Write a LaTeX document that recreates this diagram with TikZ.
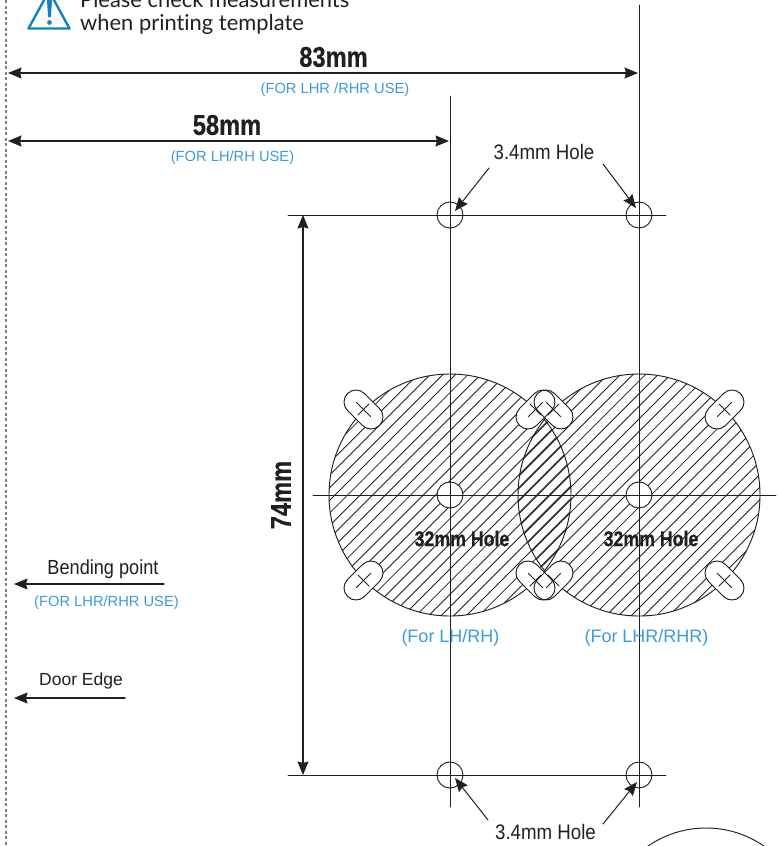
\documentclass[tikz,border=0pt]{standalone}
\usepackage{fontspec}
\usetikzlibrary{arrows.meta,positioning,shapes.misc}
\setmainfont{Liberation Sans}
\newfontfamily\cond[FakeStretch=0.89]{Liberation Sans}
\newfontfamily\boldcond[FakeStretch=0.83,BoldFeatures={FakeBold=0.5}]{Liberation Sans}
\newfontfamily\noticefont[Ligatures=NoCommon]{Lato}
\definecolor{noteblue}{HTML}{3D9BD6}
\definecolor{signblue}{HTML}{1580C4}
\definecolor{inkgray}{HTML}{231F20}
\tikzset{
	dimline/.style={draw=inkgray, line width=1.05pt, {Stealth[length=13.5pt,width=11pt,inset=1.5pt]}-{Stealth[length=13.5pt,width=11pt,inset=1.5pt]}},
	pointer/.style={draw=inkgray, line width=1.05pt, -{Stealth[length=13.5pt,width=11pt,inset=1.5pt]}},
	leader/.style={draw=inkgray, line width=1pt, -{Stealth[length=13.5pt,width=11pt,inset=1.5pt]}},
	axisline/.style={draw=inkgray, line width=.95pt},
	dimtext/.style={font=\boldcond\bfseries\fontsize{28.5}{28.5}\selectfont, text=inkgray, inner sep=0pt},
	holetext/.style={font=\cond\fontsize{21}{21}\selectfont, text=inkgray, inner sep=0pt},
	bigtext/.style={font=\boldcond\bfseries\fontsize{21.4}{21.4}\selectfont, text=inkgray, inner sep=0pt},
	notetext/.style={font=\fontsize{14.7}{14.7}\selectfont, text=noteblue, inner sep=0pt},
	hole/.style={circle, draw=inkgray, line width=.95pt, minimum size=26pt, inner sep=0pt},
	slotshape/.style={rounded rectangle, minimum width=45.2pt, minimum height=24pt, inner sep=0pt, outer sep=0pt},
}
\begin{document}
\begin{tikzpicture}[x=1pt, y=-1pt, line join=round, line cap=round]
	\def\hatchstep{12.6}
	\def\xleft{450} \def\xright{639}
	\def\ytop{215} \def\ymid{495} \def\ybot{775}
	\def\bigr{121}
	\useasboundingbox (0,0) rectangle (778,846);
	\clip (0,0) rectangle (778,846);
	% hatched discs
	\foreach \cx/\shift in {\xleft/-1.6,\xright/-0.5}{
		\draw[axisline] (\cx,\ymid) circle (\bigr);
		\begin{scope}
			\clip (\cx,\ymid) circle (\bigr);
			\foreach \k in {-14,...,14}
				\draw[inkgray, line width=.85pt] (\cx-130,\ymid+\k*\hatchstep+\shift+130)--(\cx+130,\ymid+\k*\hatchstep+\shift-130);
		\end{scope}
	}
	% slots
	\foreach \cx/\cy/\ang [count=\n] in {363.5/409.5/45, 535.5/409.5/-45, 363.5/580.5/-45, 535.5/580.5/45,
		553.5/409.5/45, 724.5/409.5/-45, 553.5/580.5/-45, 724.5/580.5/45}
		\node[slotshape, fill=white, rotate=-\ang] (back\n) at (\cx,\cy) {};
	\foreach \cx/\cy/\ang [count=\n] in {363.5/409.5/45, 535.5/409.5/-45, 363.5/580.5/-45, 535.5/580.5/45,
		553.5/409.5/45, 724.5/409.5/-45, 553.5/580.5/-45, 724.5/580.5/45}{
		\node[slotshape, axisline, rotate=-\ang] (slot\n) at (\cx,\cy) {};
		\draw[axisline] (\cx,\cy) ++(\ang:10) -- ++(\ang+180:20);
		\draw[axisline] (\cx,\cy) ++(\ang+90:8) -- ++(\ang+270:16);
	}
	% holes
	\node[hole, fill=white] (holeL) at (\xleft,\ymid) {};
	\node[hole, fill=white] (holeR) at (\xright,\ymid) {};
	\node[hole] (holeTL) at (\xleft,\ytop) {};
	\node[hole] (holeTR) at (\xright,\ytop) {};
	\node[hole] (holeBL) at (\xleft,\ybot) {};
	\node[hole] (holeBR) at (\xright,\ybot) {};
	% center lines
	\draw[axisline] (\xleft,96)--(\xleft,807);
	\draw[axisline] (\xright,5)--(\xright,807);
	\draw[axisline] (288,\ytop)--(666,\ytop);
	\draw[axisline] (288,\ybot)--(666,\ybot);
	\draw[axisline] (313,\ymid)--(776,\ymid);
	% door edge
	\draw[gray, line width=1.2pt, dash pattern=on 3pt off 2.5pt, line cap=butt] (6,0)--(6,846);
	% dimensions
	\coordinate (edgeA) at (8,73); \coordinate (edgeB) at (8,141);
	\coordinate (lineA) at (638,73); \coordinate (lineB) at (449,141);
	\coordinate (dimT) at (303,\ytop); \coordinate (dimB) at (303,\ybot);
	\draw[dimline] (edgeA)--(lineA);
	\draw[dimline] (edgeB)--(lineB);
	\draw[dimline] (dimT)--(dimB);
	\node[dimtext] (dimA) at (333.5,57) {83mm};
	\node[dimtext] (dimC) at (227,125) {58mm};
	\node[dimtext, rotate=90] (dimV) at (281,495) {74mm};
	\node[notetext] (noteA) at (335,89.5) {(FOR LHR /RHR USE)};
	\node[notetext] (noteB) at (232.5,157.5) {(FOR LH/RH USE)};
	% hole labels
	\node[holetext] (topHole) at (544,152) {3.4mm Hole};
	\node[holetext] (botHole) at (545.5,832) {3.4mm Hole};
	\coordinate (topA) at (489,168); \coordinate (topB) at (603,164);
	\coordinate (botA) at (488,820); \coordinate (botB) at (603,824);
	\draw[leader] (topA)--(455,211);
	\draw[leader] (topB)--(636,208);
	\draw[leader] (botA)--(455,778);
	\draw[leader] (botB)--(637,782);
	\node[bigtext] (bigL) at (462,538.5) {32mm Hole};
	\node[bigtext] (bigR) at (651,538.5) {32mm Hole};
	\node[notetext, font=\fontsize{18}{18}\selectfont] (forL) at (450.5,637.5) {(For LH/RH)};
	\node[notetext, font=\fontsize{18}{18}\selectfont] (forR) at (646.5,637.5) {(For LHR/RHR)};
	% left pointers
	\coordinate (bendEnd) at (164,584); \coordinate (bendTip) at (14,584);
	\coordinate (doorEnd) at (125,698); \coordinate (doorTip) at (14,698);
	\draw[pointer] (bendEnd)--(bendTip);
	\draw[pointer] (doorEnd)--(doorTip);
	\node[holetext, font=\cond\fontsize{20.4}{20.4}\selectfont] (bend) at (103,569) {Bending point};
	\node[notetext] (noteC) at (106.5,602.5) {(FOR LHR/RHR USE)};
	\node[holetext, font=\fontsize{17.5}{17.5}\selectfont] (door) at (81,681) {Door Edge};
	% notice
	\draw[signblue, line width=2.4pt] (49,-9)--(28.5,28.5)--(69.5,28.5)--cycle;
	\fill[signblue] (46.8,-2)--(52.2,-2)--(50.9,17)--(48.1,17)--cycle (49.5,22.5) circle (2.4);
	\node[anchor=base west, inner sep=0pt, font=\noticefont\fontsize{21.9}{21.9}\selectfont, text=inkgray] (notice2) at (80,30) {when printing template};
	\node[anchor=base west, inner sep=0pt, font=\noticefont\fontsize{21.9}{21.9}\selectfont, text=inkgray] (notice1) at (80,7) {Please check measurements};
	% lower right
	\draw[axisline] (706,930) circle (102);
\end{tikzpicture}
\end{document}
